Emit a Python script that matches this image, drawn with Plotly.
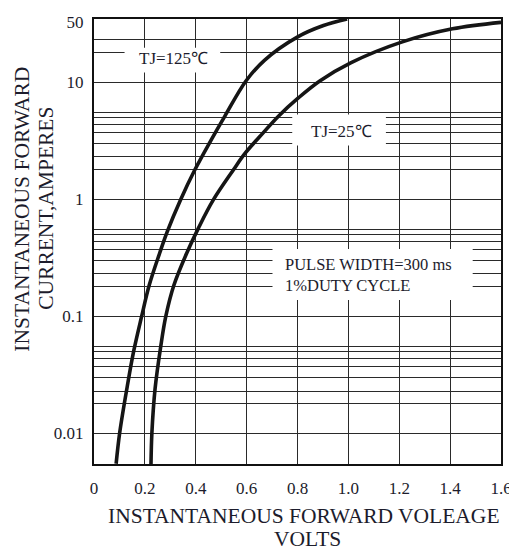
import math
import plotly.graph_objects as go

# ---- data ----
V_125 = [0.087, 0.101, 0.129, 0.156, 0.187, 0.217, 0.259, 0.288, 0.340, 0.3955, 0.4625, 0.5145, 0.598, 0.670, 0.799, 0.902, 0.995]
I_125 = [0.0055, 0.0101, 0.0239, 0.0503, 0.0993, 0.184, 0.351, 0.53, 0.987, 1.77, 3.27, 5.14, 10.3, 15.4, 24.3, 30.5, 34.7]

V_25 = [0.224, 0.2276, 0.240, 0.2625, 0.282, 0.314, 0.3656, 0.411, 0.469, 0.547, 0.592, 0.650, 0.728, 0.802, 0.889, 1.011, 1.209, 1.409, 1.600]
I_25 = [0.0054, 0.0101, 0.0239, 0.0554, 0.0993, 0.184, 0.351, 0.57, 0.987, 1.77, 2.44, 3.4, 5.2, 7.3, 10.3, 14.7, 22.0, 28.6, 32.5]

X_TICK_VALS = [0, 0.2, 0.4, 0.6, 0.8, 1.0, 1.2, 1.4, 1.6]
X_TICK_TEXT = ["0", "0.2", "0.4", "0.6", "0.8", "1.0", "1.2", "1.4", "1.6"]
Y_TOP = 34.7
Y_BOTTOM = 0.00547
Y_TICK_VALS = [0.01, 0.1, 1, 10, 32.5]
Y_TICK_TEXT = ["0.01", "0.1", "1", "10", "50"]

# grid pattern of the reference: decade lines plus its own minor lines
GRID_MAJOR = [0.01, 0.1, 1, 10]
GRID_FACTORS = [1.8, 2.3, 3.0, 3.7, 4.35, 5.0, 5.5]
GRID_VALS = GRID_MAJOR + [f * d for d in GRID_MAJOR[:3] for f in GRID_FACTORS] + [f * 10 for f in GRID_FACTORS[:2]]

LABEL_125 = "TJ=125℃"
LABEL_25 = "TJ=25℃"
NOTE = "PULSE WIDTH=300 ms<br>1%DUTY CYCLE"
X_TITLE_1 = "INSTANTANEOUS FORWARD VOLEAGE"
X_TITLE_2 = "VOLTS"
Y_TITLE_1 = "INSTANTANEOUS FORWARD"
Y_TITLE_2 = "CURRENT,AMPERES"

# ---- layout geometry (window pixels) ----
WIN_W, WIN_H = 517, 553
BODY = 8  # default page margin around the figure
X0, X1 = 94, 506.7
Y0, Y1 = 13.3, 464.3


def xp(px):
    return (px - X0) / (X1 - X0)


def yp(py):
    return (Y1 - py) / (Y1 - Y0)


FONT = "Liberation Serif"
TXT = "#1c1c2c"
GRID = "#2a2a2a"

fig = go.Figure()
for v, i in ((V_125, I_125), (V_25, I_25)):
    fig.add_trace(go.Scatter(x=v, y=i, mode="lines",
                             line=dict(color="#151515", width=3.6, shape="spline", smoothing=1.0),
                             showlegend=False, hoverinfo="skip"))

# white boxes that interrupt the grid behind the labels
boxes = [(125, 222, 42.5, 67.5), (295, 390, 110, 141.5), (275, 478, 246.5, 298)]
for bx0, bx1, by0, by1 in boxes:
    fig.add_shape(type="rect", xref="paper", yref="paper",
                  x0=xp(bx0), x1=xp(bx1), y0=yp(by1), y1=yp(by0),
                  fillcolor="white", line=dict(width=0), layer="above")

ann = []


def add_text(text, px, py, size, xanchor="center", angle=0, align="center"):
    ann.append(dict(text=text, xref="paper", yref="paper", x=xp(px), y=yp(py),
                    xanchor=xanchor, yanchor="middle", showarrow=False, textangle=angle,
                    align=align, borderpad=0, font=dict(family=FONT, size=size, color=TXT)))


add_text(LABEL_125, 175, 53, 17)
add_text(LABEL_25, 345, 127, 17)
add_text(NOTE, 287, 273, 16.5, xanchor="left", align="left")
add_text(X_TITLE_1, 307, 517.5, 21.5)
add_text(X_TITLE_2, 310, 540.5, 21.5)
add_text(Y_TITLE_1, 21.5, 206, 21.5, angle=-90)
add_text(Y_TITLE_2, 45, 205, 21.5, angle=-90)

axis_common = dict(showgrid=False, zeroline=False, showline=True, mirror=True,
                   linecolor="#111", linewidth=2, ticks="", ticklabeloverflow="allow",
                   tickfont=dict(family=FONT, size=17, color=TXT))

fig.update_layout(
    width=WIN_W - BODY, height=WIN_H - BODY, autosize=False,
    margin=dict(l=X0 - BODY, r=WIN_W - X1, t=Y0 - BODY, b=WIN_H - Y1, pad=0),
    paper_bgcolor="white", plot_bgcolor="white",
    annotations=ann,
    xaxis=dict(range=[0, 1.6], tickmode="array", tickvals=X_TICK_VALS, ticktext=X_TICK_TEXT,
               ticklabelstandoff=8,
               minor=dict(tickmode="array", tickvals=X_TICK_VALS, showgrid=True,
                          gridcolor=GRID, gridwidth=1.4, ticks=""),
               **axis_common),
    yaxis=dict(type="log", range=[math.log10(Y_BOTTOM), math.log10(Y_TOP)],
               tickmode="array", tickvals=Y_TICK_VALS, ticktext=Y_TICK_TEXT,
               ticklabelstandoff=5,
               minor=dict(tickmode="array", tickvals=GRID_VALS, showgrid=True,
                          gridcolor=GRID, gridwidth=1.4, ticks=""),
               **axis_common),
)

fig.write_html("out.html")
